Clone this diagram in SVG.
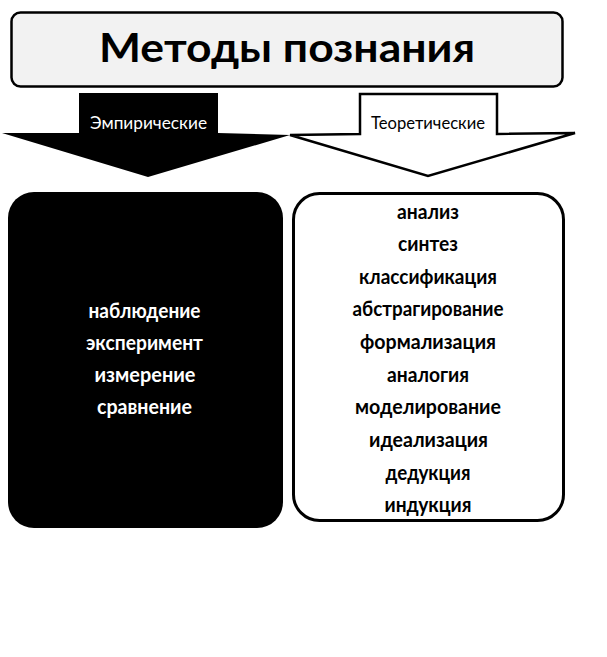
<svg xmlns="http://www.w3.org/2000/svg" width="607" height="657" viewBox="0 0 607 657">
<style>
.t{font-family:Lato,"Open Sans","DejaVu Sans",sans-serif;text-anchor:middle}
.b{font-weight:bold;font-size:20px}
.w{fill:#ffffff}
.k{fill:#000000}
</style>
<rect x="0" y="0" width="607" height="657" fill="#ffffff"/>
<g id="title">
<rect x="11.5" y="12.5" width="551" height="74" rx="9" ry="9" fill="#f2f2f2" stroke="#000" stroke-width="2.5"/>
<text class="t k" x="287" y="62" font-size="41" font-weight="bold" textLength="376" lengthAdjust="spacingAndGlyphs">Методы познания</text>
</g>
<g id="connectors">
<g id="arrow-empirical">
<polygon points="79,93 218,93 218,133 290,135 148,177 2,133 79,133" fill="#000"/>
<text class="t w" x="148.5" y="129" font-size="17" textLength="117" lengthAdjust="spacingAndGlyphs">Эмпирические</text>
</g>
<g id="arrow-theoretical">
<polygon points="360,94 497,94 497,134 575,133 428,176 290,135 360,134" fill="#fff" stroke="#000" stroke-width="2.5" stroke-linejoin="miter"/>
<text class="t k" x="428" y="129" font-size="17" textLength="114" lengthAdjust="spacingAndGlyphs">Теоретические</text>
</g>
</g>
<g id="empirical">
<rect x="8" y="192" width="275" height="336" rx="26" ry="26" fill="#000"/>
<text class="t b w" x="144.5" y="317.5" textLength="112" lengthAdjust="spacingAndGlyphs">наблюдение</text>
<text class="t b w" x="144.5" y="350" textLength="117" lengthAdjust="spacingAndGlyphs">эксперимент</text>
<text class="t b w" x="145" y="382" textLength="101" lengthAdjust="spacingAndGlyphs">измерение</text>
<text class="t b w" x="144.5" y="413.5" textLength="95" lengthAdjust="spacingAndGlyphs">сравнение</text>
</g>
<g id="theoretical">
<rect x="293.5" y="193.5" width="270" height="327" rx="26" ry="26" fill="#fff" stroke="#000" stroke-width="3"/>
<text class="t b k" x="428" y="219" textLength="62" lengthAdjust="spacingAndGlyphs">анализ</text>
<text class="t b k" x="428" y="251" textLength="60" lengthAdjust="spacingAndGlyphs">синтез</text>
<text class="t b k" x="428" y="283.5" textLength="138" lengthAdjust="spacingAndGlyphs">классификация</text>
<text class="t b k" x="428" y="316" textLength="151" lengthAdjust="spacingAndGlyphs">абстрагирование</text>
<text class="t b k" x="428" y="349" textLength="136" lengthAdjust="spacingAndGlyphs">формализация</text>
<text class="t b k" x="428" y="381.5" textLength="82" lengthAdjust="spacingAndGlyphs">аналогия</text>
<text class="t b k" x="428" y="414" textLength="146" lengthAdjust="spacingAndGlyphs">моделирование</text>
<text class="t b k" x="428.5" y="447" textLength="119" lengthAdjust="spacingAndGlyphs">идеализация</text>
<text class="t b k" x="428" y="479.5" textLength="85" lengthAdjust="spacingAndGlyphs">дедукция</text>
<text class="t b k" x="428" y="512" textLength="87" lengthAdjust="spacingAndGlyphs">индукция</text>
</g>
</svg>
